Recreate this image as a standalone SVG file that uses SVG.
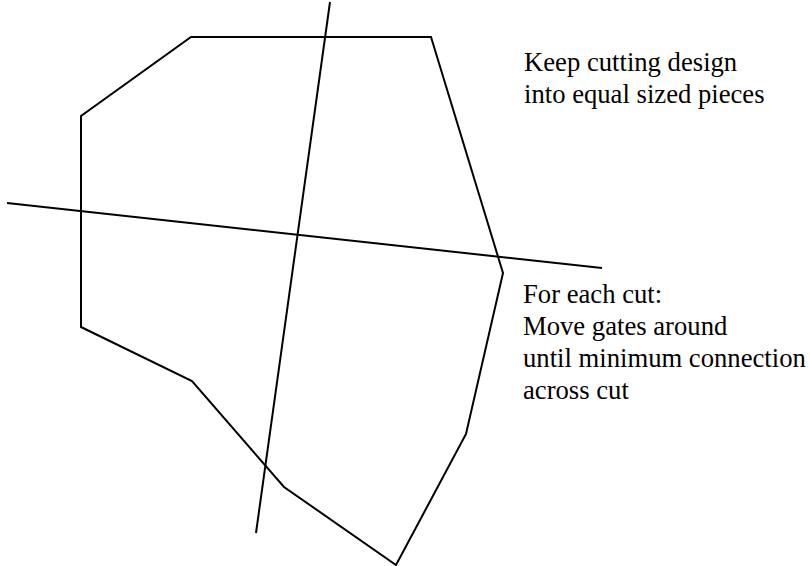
<svg xmlns="http://www.w3.org/2000/svg" width="810" height="566" viewBox="0 0 810 566">
<style>
.ln{fill:none;stroke:#000;stroke-width:2;stroke-linejoin:miter}
.t{font-family:'Liberation Serif','Times New Roman',Times,serif;font-size:26.67px;fill:#000}
</style>
<rect width="810" height="566" fill="#fff"/>
<g id="design">
<polygon class="ln" points="191,37 431,37 503,273 466,434 396,565 284,487 192,381 81,327 81,116"/>
</g>
<g id="cuts">
<line class="ln" x1="330" y1="2" x2="256" y2="533"/>
<line class="ln" x1="7" y1="203" x2="602" y2="268"/>
</g>
<g id="note1">
<text class="t" x="524" y="71">Keep cutting design</text>
<text class="t" x="524" y="103">into equal sized pieces</text>
</g>
<g id="note2">
<text class="t" x="523" y="303">For each cut:</text>
<text class="t" x="523" y="335">Move gates around</text>
<text class="t" x="523" y="367">until minimum connection</text>
<text class="t" x="523" y="399">across cut</text>
</g>
</svg>
